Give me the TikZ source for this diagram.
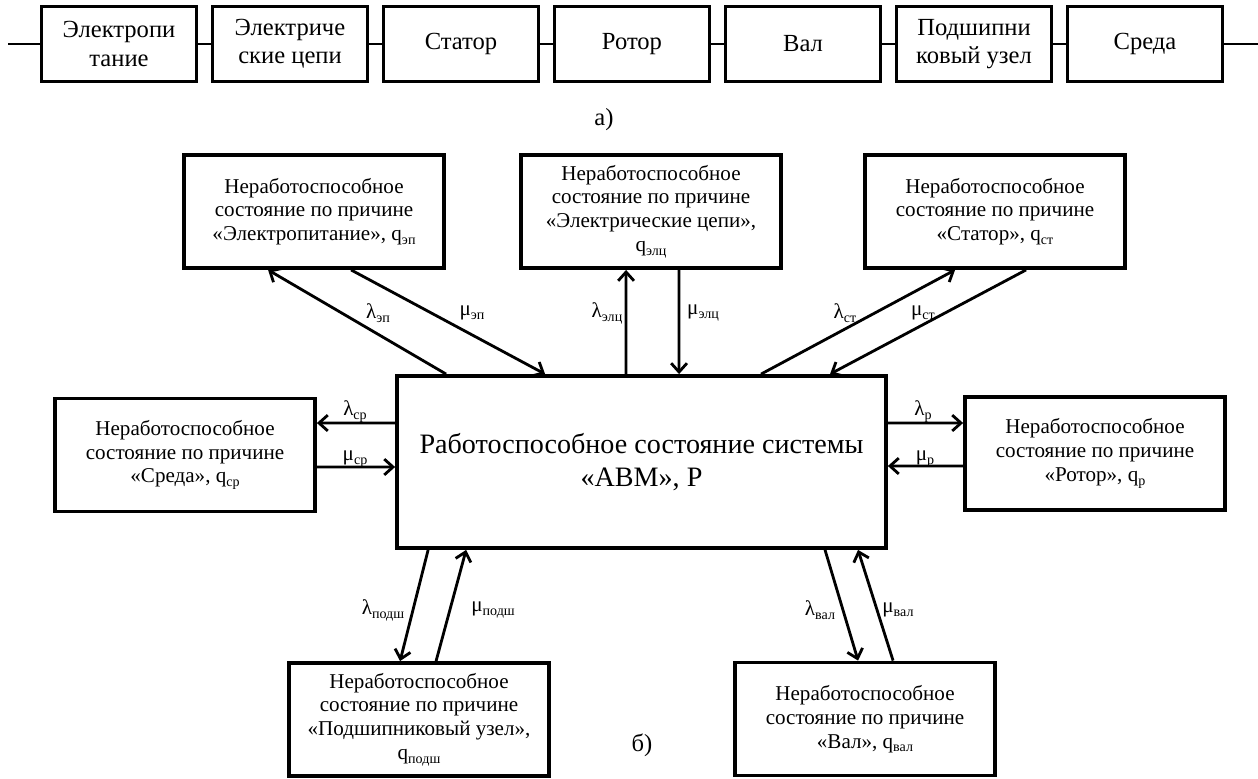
\documentclass[tikz,border=0pt]{standalone}
\usepackage{fontspec}
\setmainfont{Liberation Serif}
\usepackage{tikz}
\usetikzlibrary{arrows.meta}

\begin{document}
\begin{tikzpicture}[x=0.02cm, y=-0.02cm,
		element/.style={draw, line width=2.2pt, minimum width=3.1cm, minimum height=1.5cm, inner sep=0pt, align=center, font=\fontsize{14}{16}\selectfont},
		fault/.style={draw, line width=2.2pt, minimum width=5.2cm, minimum height=2.26cm, inner sep=0pt, align=center, font=\fontsize{12}{13.5}\selectfont},
		rate/.style={inner sep=0pt, font=\fontsize{12}{13}\selectfont},
		flow/.style={line width=1.6pt, -{Straight Barb[length=5pt,width=9pt]}}]
			\useasboundingbox (0,0) rectangle (1258,778);

			\newcommand{\lowsub}[1]{\raisebox{-0.4ex}{\fontsize{8}{8}\selectfont #1}}

			% a) series chain
			\foreach \name/\txt [count=\i from 0] in {eEP/{Электропи\\тание}, eEC/{Электриче\\ские цепи}, eST/Статор, eRT/Ротор, eVL/Вал, ePD/{Подшипни\\ковый узел}, eSR/Среда}
			{
				\node [element] (\name) at (119+171*\i,44) {\txt};
			}
			\coordinate (chainL) at (8,44);
			\coordinate (chainR) at (1258,44);
			\begin{scope}[line width=1.1pt]
				\draw (chainL) -- (eEP.west);
				\foreach \a/\b in {eEP/eEC, eEC/eST, eST/eRT, eRT/eVL, eVL/ePD, ePD/eSR}
				{
					\draw (\a.east) -- (\b.west);
				}
				\draw (eSR.east) -- (chainR);
			\end{scope}
			\node [font=\fontsize{14}{16}\selectfont] (capA) at (604,120) {а)};

			% b) state graph
			\node [draw, line width=2.2pt, minimum width=9.78cm, minimum height=3.44cm, inner sep=0pt, align=center, font=\fontsize{16}{18.4}\selectfont] (main) at (641.5,462) {Работоспособное состояние системы\\«АВМ», Р};

			\node [fault] (fEP) at (314,211.5) {Неработоспособное\\состояние по причине\\«Электропитание», q\lowsub{эп}};
			\node [fault] (fEC) at (651,211.5) {Неработоспособное\\состояние по причине\\«Электрические цепи»,\\q\lowsub{элц}};
			\node [fault] (fST) at (995,211.5) {Неработоспособное\\состояние по причине\\«Статор», q\lowsub{ст}};
			\node [fault] (fSR) at (185,455) {Неработоспособное\\состояние по причине\\«Среда», q\lowsub{ср}};
			\node [fault] (fRT) at (1095,453.5) {Неработоспособное\\состояние по причине\\«Ротор», q\lowsub{р}};
			\node [fault] (fPD) at (419,719.5) {Неработоспособное\\состояние по причине\\«Подшипниковый узел»,\\q\lowsub{подш}};
			\node [fault] (fVL) at (865,719) {Неработоспособное\\состояние по причине\\«Вал», q\lowsub{вал}};

			\begin{scope}[flow]
				\draw ([xshift=1.02cm]main.north west) -- ([xshift=1.72cm]fEP.south west);
				\draw ([xshift=3.38cm]fEP.south west) -- ([xshift=3cm]main.north west);
				\draw ([xshift=4.62cm]main.north west) -- ([xshift=2.14cm]fEC.south west);
				\draw ([xshift=3.2cm]fEC.south west) -- ([xshift=5.68cm]main.north west);
				\draw ([xshift=7.32cm]main.north west) -- ([xshift=1.84cm]fST.south west);
				\draw ([xshift=3.26cm]fST.south west) -- ([xshift=8.7cm]main.north west);
				\draw ([yshift=0.78cm]main.west) -- ([yshift=0.64cm]fSR.east);
				\draw ([yshift=-0.24cm]fSR.east) -- ([yshift=-0.1cm]main.west);
				\draw ([yshift=0.78cm]main.east) -- ([yshift=0.61cm]fRT.west);
				\draw ([yshift=-0.25cm]fRT.west) -- ([yshift=-0.08cm]main.east);
				\draw ([xshift=0.66cm]main.south west) -- ([xshift=2.26cm]fPD.north west);
				\draw ([xshift=2.98cm]fPD.north west) -- ([xshift=1.42cm]main.south west);
				\draw ([xshift=8.6cm]main.south west) -- ([xshift=2.5cm]fVL.north west);
				\draw ([xshift=3.2cm]fVL.north west) -- ([xshift=9.26cm]main.south west);
			\end{scope}

			\node [rate] (lEP) at (378,313) {λ\lowsub{эп}};
			\node [rate] (mEP) at (472,313) {μ\lowsub{эп}};
			\node [rate] (lEC) at (607,313) {λ\lowsub{элц}};
			\node [rate] (mEC) at (703,313) {μ\lowsub{элц}};
			\node [rate] (lST) at (845,313) {λ\lowsub{ст}};
			\node [rate] (mST) at (923,313) {μ\lowsub{ст}};
			\node [rate] (lSR) at (355,412) {λ\lowsub{ср}};
			\node [rate] (mSR) at (355,459) {μ\lowsub{ср}};
			\node [rate] (lRT) at (923,412) {λ\lowsub{р}};
			\node [rate] (mRT) at (925,459) {μ\lowsub{р}};
			\node [rate] (lPD) at (383,610) {λ\lowsub{подш}};
			\node [rate] (mPD) at (493,610) {μ\lowsub{подш}};
			\node [rate] (lVL) at (820,610) {λ\lowsub{вал}};
			\node [rate] (mVL) at (898,610) {μ\lowsub{вал}};

			\node [font=\fontsize{14}{16}\selectfont] (capB) at (642,745) {б)};
		\end{tikzpicture}
\end{document}
